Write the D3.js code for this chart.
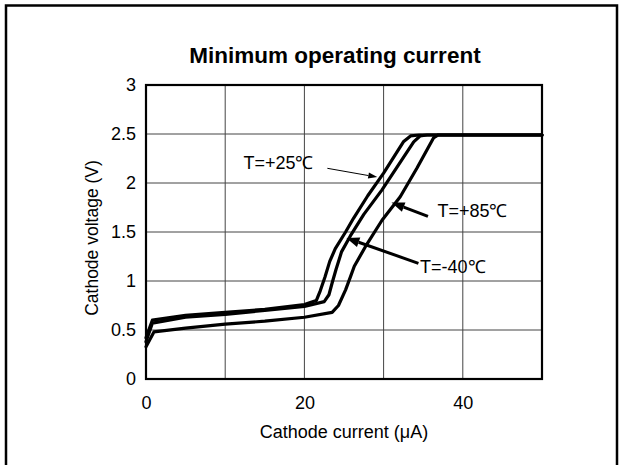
<!DOCTYPE html>
<html><head><meta charset="utf-8">
<script src="https://cdn.jsdelivr.net/npm/d3@7"></script>
<style>
body{margin:0;background:#fff;}
text{font-family:"Liberation Sans",Arial,sans-serif;fill:#000;}
</style></head>
<body><svg id="c" width="623" height="465"></svg>
<script>
const title = "Minimum operating current";
const xLabel = "Cathode current (μA)";
const yLabel = "Cathode voltage (V)";
const xTicks = [0, 20, 40];
const xGrid = [10, 20, 30, 40];
const yTicks = [0, 0.5, 1, 1.5, 2, 2.5, 3];

// Series: [current µA, voltage V]
const curve25 = [[0,0.42],[0.8,0.60],[5,0.65],[10,0.68],[15,0.71],[20,0.76],[21.5,0.80],[22.0,0.90],[22.6,1.04],[23.2,1.20],[23.9,1.33],[25.2,1.50],[26.2,1.64],[28.0,1.87],[30.0,2.10],[32.5,2.42],[33.4,2.48],[34.5,2.49],[50,2.49]];
const curveM40 = [[0,0.38],[0.8,0.57],[5,0.63],[10,0.66],[15,0.70],[20,0.74],[22.5,0.79],[23.1,0.86],[23.5,0.98],[24.0,1.12],[24.7,1.30],[25.8,1.46],[27.5,1.68],[29.8,1.93],[33.8,2.42],[34.6,2.48],[35.5,2.49],[50,2.49]];
const curve85 = [[0,0.33],[1,0.48],[5,0.52],[10,0.56],[15,0.59],[20,0.63],[23.5,0.68],[24.3,0.75],[25.2,0.91],[25.8,1.04],[26.3,1.15],[27.7,1.35],[29.8,1.62],[32.1,1.86],[34.2,2.15],[36.3,2.46],[36.9,2.49],[50,2.49]];

// Annotations: label, text anchor point, arrow from, arrow to (data units), style
const annLabels = ["T=+25℃", "T=+85℃", "T=-40℃"];
const annText = [[12.3,2.14],[36.8,1.65],[34.6,1.08]];
const annFrom = [[22.9,2.15],[35.6,1.66],[34.4,1.18]];
const annTo = [[29.2,2.06],[31.0,1.80],[25.3,1.44]];
const annThick = [false, true, true];

const svg = d3.select("#c");
const x = d3.scaleLinear().domain([0,50]).range([146,542]);
const y = d3.scaleLinear().domain([0,3]).range([379,85]);

// outer frame
svg.append("path").attr("d","M6,470V5.5H617V470").attr("fill","none").attr("stroke","#000").attr("stroke-width",2.5);

// grid
svg.append("g").selectAll("line").data(xGrid).join("line")
  .attr("x1",d=>x(d)).attr("x2",d=>x(d)).attr("y1",y(0)).attr("y2",y(3))
  .attr("stroke","#444").attr("stroke-width",1);
svg.append("g").selectAll("line").data(yTicks.slice(1,-1)).join("line")
  .attr("x1",x(0)).attr("x2",x(50)).attr("y1",d=>y(d)).attr("y2",d=>y(d))
  .attr("stroke","#444").attr("stroke-width",1);

// axes
const gx = svg.append("g").attr("transform",`translate(0,${y(0)})`)
  .call(d3.axisBottom(x).tickValues(xTicks).tickSize(0).tickPadding(17).tickFormat(d=>String(d)));
const gy = svg.append("g").attr("transform",`translate(${x(0)},0)`)
  .call(d3.axisLeft(y).tickValues(yTicks).tickSize(0).tickPadding(10).tickFormat(d=>String(d)));
[gx,gy].forEach(g=>{g.select(".domain").remove();g.selectAll("text").attr("font-size",18).attr("font-family","Liberation Sans, Arial, sans-serif");});

// plot frame
svg.append("rect").attr("x",x(0)).attr("y",y(3)).attr("width",x(50)-x(0)).attr("height",y(0)-y(3))
  .attr("fill","none").attr("stroke","#000").attr("stroke-width",2.2);

// curves
const line = d3.line().x(d=>x(d[0])).y(d=>y(d[1]));
[curve25, curveM40, curve85].forEach(c=>{
  svg.append("path").datum(c).attr("d",line).attr("fill","none")
    .attr("stroke","#000").attr("stroke-width",3.2).attr("stroke-linejoin","round").attr("stroke-linecap","round");
});

// annotations
annLabels.forEach((lab,i)=>{
  svg.append("text").attr("x",x(annText[i][0])).attr("y",y(annText[i][1]))
    .attr("font-size",18).text(lab);
  const x1=x(annFrom[i][0]), y1=y(annFrom[i][1]), x2=x(annTo[i][0]), y2=y(annTo[i][1]);
  const ang=Math.atan2(y2-y1,x2-x1);
  const L = annThick[i]?13:9, W = annThick[i]?5:3;
  const bx=x2-L*Math.cos(ang), by=y2-L*Math.sin(ang);
  svg.append("line").attr("x1",x1).attr("y1",y1).attr("x2",bx).attr("y2",by)
    .attr("stroke","#000").attr("stroke-width",annThick[i]?3:1);
  const px=-Math.sin(ang), py=Math.cos(ang);
  svg.append("path").attr("d",`M${x2},${y2}L${bx+px*W},${by+py*W}L${bx-px*W},${by-py*W}Z`).attr("fill","#000");
});

// titles
svg.append("text").attr("x",335).attr("y",63).attr("text-anchor","middle")
  .attr("font-size",22.5).attr("font-weight","bold").text(title);
svg.append("text").attr("x",x(25)).attr("y",438).attr("text-anchor","middle")
  .attr("font-size",18).text(xLabel);
svg.append("text").attr("transform",`translate(98,${(y(0)+y(3))/2+6}) rotate(-90)`).attr("text-anchor","middle")
  .attr("font-size",17.5).text(yLabel);
</script></body></html>
